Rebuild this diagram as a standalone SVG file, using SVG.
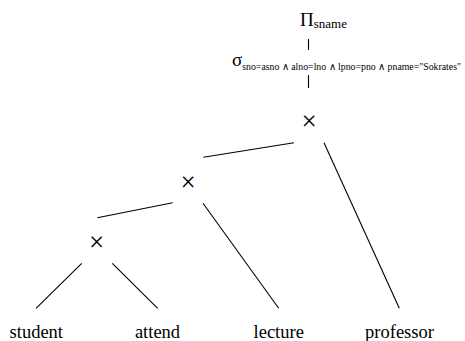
<svg xmlns="http://www.w3.org/2000/svg" width="465" height="341" viewBox="0 0 465 341">
<style>
.lbl{font-family:"Liberation Serif","Times New Roman",serif;font-size:18.5px;fill:#000;text-anchor:middle}
.op{font-family:"Liberation Serif","Times New Roman",serif;font-size:27px;fill:#000;text-anchor:middle}
.big{font-family:"Liberation Serif","Times New Roman",serif;font-size:19px;fill:#000}
.sub{font-family:"Liberation Serif","Times New Roman",serif;fill:#000}
.edge{stroke:#000;stroke-width:1.1;fill:none}
</style>
<rect width="465" height="341" fill="#fff"/>
<g id="projection"><text class="big" x="300" y="26">Π<tspan class="sub" font-size="13px" dy="2">sname</tspan></text></g>
<g id="selection"><text class="big" x="232" y="66">σ<tspan class="sub" font-size="9.8px" dy="4">sno=asno ∧ alno=lno ∧ lpno=pno ∧ pname="Sokrates"</tspan></text></g>
<g id="cross1"><text class="op" x="309" y="129.5">×</text></g>
<g id="cross2"><text class="op" x="188" y="190.5">×</text></g>
<g id="cross3"><text class="op" x="96.7" y="250.5">×</text></g>
<g id="student"><text class="lbl" x="36.3" y="338">student</text></g>
<g id="attend"><text class="lbl" x="157.5" y="338">attend</text></g>
<g id="lecture"><text class="lbl" x="278.7" y="338">lecture</text></g>
<g id="professor"><text class="lbl" x="399.5" y="338">professor</text></g>
<g id="connectors">
<line class="edge" x1="308.5" y1="39" x2="308.5" y2="50"/>
<line class="edge" x1="308.5" y1="75" x2="308.5" y2="88"/>
<line class="edge" x1="294" y1="142.7" x2="203.3" y2="157.3"/>
<line class="edge" x1="324" y1="142.7" x2="399.3" y2="308.3"/>
<line class="edge" x1="172.7" y1="202.7" x2="97.3" y2="217.7"/>
<line class="edge" x1="203" y1="203.3" x2="278.7" y2="308.3"/>
<line class="edge" x1="81.7" y1="263.3" x2="36" y2="308.3"/>
<line class="edge" x1="112.3" y1="263.3" x2="157.7" y2="308.3"/>
</g>
</svg>
